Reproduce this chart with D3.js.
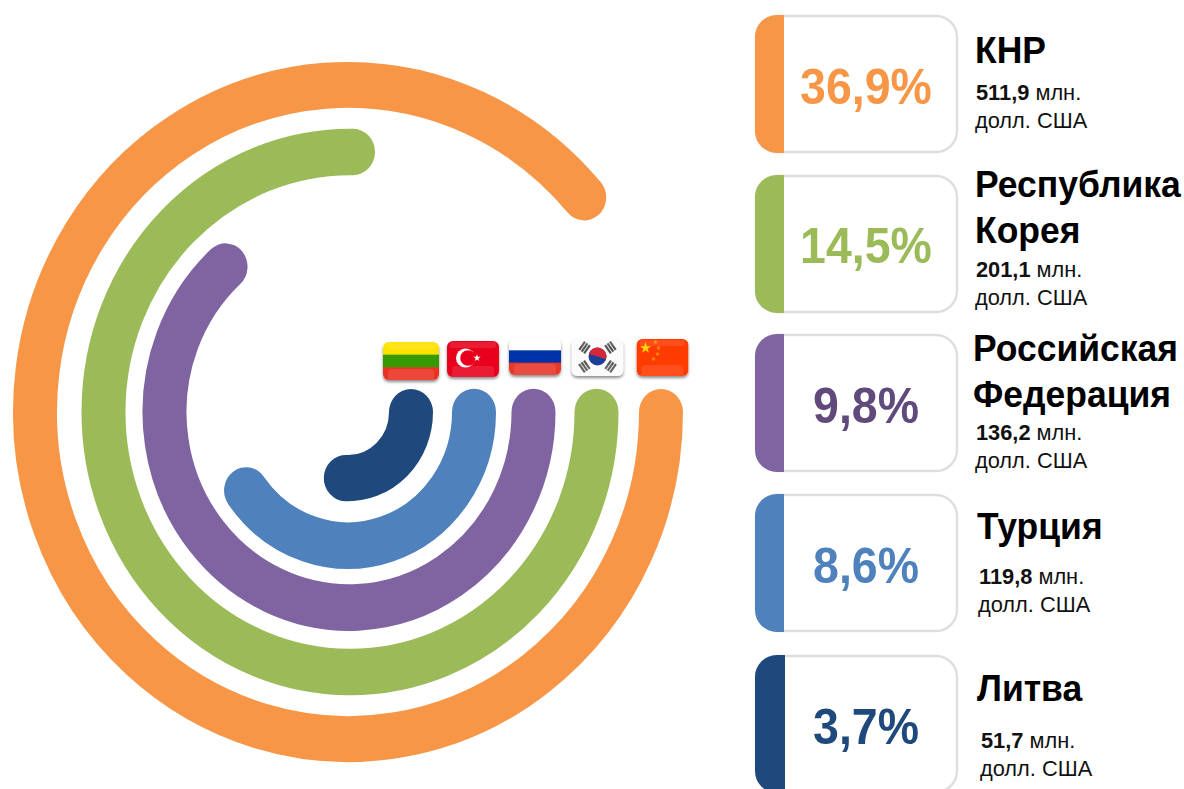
<!DOCTYPE html>
<html>
<head>
<meta charset="utf-8">
<script src="https://cdn.jsdelivr.net/npm/d3@7"></script>
<style>
  html, body { margin: 0; padding: 0; background: #fff; overflow: hidden; }
  svg { display: block; }
  text { font-family: "Liberation Sans", Arial, sans-serif; }
</style>
</head>
<body>
<div id="chart"></div>
<script>
// data
const countries = ['КНР', 'Республика Корея', 'Российская Федерация', 'Турция', 'Литва'];
const shares = ['36,9%', '14,5%', '9,8%', '8,6%', '3,7%'];
const amounts = ['511,9', '201,1', '136,2', '119,8', '51,7'];
const nameLines = [['КНР'], ['Республика', 'Корея'], ['Российская', 'Федерация'], ['Турция'], ['Литва']];
// sweep of each ring, degrees clockwise from 3 o'clock
const sweeps = [319, 270.7, 228, 144, 92];
const flags = ['cn', 'kr', 'ru', 'tr', 'lt'];

const colors = ['#F79646', '#9BBB59', '#8064A2', '#4F81BD', '#1F497D'];
const shareColors = ['#F79646', '#9BBB59', '#604A7B', '#4F81BD', '#1F497D'];

// layout
const width = 1184, height = 789;
const cy = 412, ringWidth = 44;
const ringRadii = [313, 246.5, 184.5, 126, 63];
const ringCx = [348, 350, 349, 348, 348];
const ringStretch = [1.045, 1.055, 1.06, 1.06, 1.05];
const panelTops = [15, 175, 334, 494, 655];
const panelHeight = 138;
const shareBase = [104, 263, 423, 583, 744];
const nameX = [975, 975, 973, 977, 977];
const nameBase = [[63], [197, 243], [361, 407], [539], [701]];
const amountX = [976, 976, 976, 979, 981];
const amountBase = [100, 277, 440, 584, 748];
const unitX = [975, 975, 975, 978, 980];
const unitBase = [128, 305, 468, 612, 776];
const flagCenters = [662.5, 597.5, 535, 473, 411];
const flagTops = [339, 339, 338, 341, 342];
const flagWidths = [52, 52, 52, 52, 56];
const flagHeights = [37, 37, 37, 36, 38];

const svg = d3.select('#chart').append('svg')
    .attr('width', width)
    .attr('height', height);

const defs = svg.append('defs');
const shadow = defs.append('filter').attr('id', 'flagShadow')
    .attr('x', '-20%').attr('y', '-20%').attr('width', '140%').attr('height', '150%');
shadow.append('feDropShadow')
    .attr('dx', 0).attr('dy', 2).attr('stdDeviation', 1.8)
    .attr('flood-color', '#000').attr('flood-opacity', 0.45);
defs.append('filter').attr('id', 'soft')
    .append('feGaussianBlur').attr('stdDeviation', 0.45);

// rings
const radius = d3.scaleOrdinal().domain(countries).range(ringRadii);
const angle = d3.scaleLinear().domain([0, 360]).range([0, 2 * Math.PI]);

svg.append('g').selectAll('path')
    .data(countries)
    .join('path')
    .attr('transform', (d, i) => `translate(${ringCx[i]},${cy}) scale(1,${ringStretch[i]})`)
    .attr('d', (d, i) => {
        const p = d3.path();
        p.arc(0, 0, radius(d), 0, angle(sweeps[i]));
        return p.toString();
    })
    .attr('fill', 'none')
    .attr('stroke', (d, i) => colors[i])
    .attr('stroke-width', ringWidth)
    .attr('stroke-linecap', 'round');

// flags
const flagLayer = svg.append('g');

const star = (g, x, y, size, fill) => g.append('path')
    .attr('d', d3.symbol(d3.symbolStar, size)())
    .attr('transform', `translate(${x},${y})`)
    .attr('fill', fill);

const bands = (g, w, h, cols) => {
    g.selectAll('rect.band')
        .data(cols)
        .join('rect')
        .attr('class', 'band')
        .attr('x', 0)
        .attr('y', (c, i) => i * h / cols.length)
        .attr('width', w)
        .attr('height', h / cols.length + 0.5)
        .attr('fill', c => c);
};

const flagPainters = {
    cn(g, w, h) {
        g.append('rect').attr('width', w).attr('height', h).attr('fill', '#FF3A00');
        star(g, 9, 9, 40, '#FFD500');
        star(g, 19, 3, 7, '#FF9A00');
        star(g, 22, 9, 7, '#FF9A00');
        star(g, 21, 15, 7, '#FF9A00');
        star(g, 17, 20, 7, '#FF9A00');
    },
    kr(g, w, h) {
        g.append('rect').attr('width', w).attr('height', h).attr('fill', '#FBFBFB');
        const mx = w / 2, my = h / 2 - 1;
        g.append('circle').attr('cx', mx).attr('cy', my).attr('r', 9).attr('fill', '#1D3F9A');
        g.append('path')
            .attr('d', d3.arc().innerRadius(0).outerRadius(9).startAngle(-Math.PI / 2 + 0.3).endAngle(Math.PI / 2 + 0.3)())
            .attr('transform', `translate(${mx},${my})`)
            .attr('fill', '#D62839');
        [[-13, -9, -55], [13, -9, 55], [-13, 10, 55], [13, 10, -55]].forEach(t => {
            const bar = g.append('g')
                .attr('transform', `translate(${mx + t[0]},${my + t[1]}) rotate(${t[2]})`);
            [-3, 0, 3].forEach(o => bar.append('rect')
                .attr('x', -5).attr('y', o - 1).attr('width', 10).attr('height', 2.2)
                .attr('fill', '#555'));
        });
    },
    ru(g, w, h) {
        bands(g, w, h, ['#FFFFFF', '#0033A8', '#E8392B']);
    },
    tr(g, w, h) {
        g.append('rect').attr('width', w).attr('height', h).attr('fill', '#E8061E');
        g.append('circle').attr('cx', 18.5).attr('cy', h / 2 - 1).attr('r', 9.5).attr('fill', '#fff');
        g.append('circle').attr('cx', 21).attr('cy', h / 2 - 1).attr('r', 7.8).attr('fill', '#E8061E');
        star(g, 30, h / 2 - 1, 16, '#fff');
    },
    lt(g, w, h) {
        bands(g, w, h, ['#FFE100', '#349A00', '#EA3323']);
    }
};

countries.forEach((c, i) => {
    const w = flagWidths[i], h = flagHeights[i];
    const clipId = 'flagClip' + i;
    defs.append('clipPath').attr('id', clipId)
        .append('rect').attr('width', w).attr('height', h).attr('rx', 6);
    const holder = flagLayer.append('g')
        .attr('transform', `translate(${flagCenters[i] - w / 2},${flagTops[i]})`)
        .attr('filter', 'url(#flagShadow)');
    const inner = holder.append('g')
        .attr('clip-path', `url(#${clipId})`)
        .append('g')
        .attr('filter', 'url(#soft)');
    flagPainters[flags[i]](inner, w, h);
    // glossy lower edge and top strip
    inner.append('rect')
        .attr('x', 5).attr('y', h - 11).attr('width', w - 10).attr('height', 14).attr('rx', 4)
        .attr('fill', '#fff').attr('opacity', 0.1);
    inner.append('rect')
        .attr('x', 3).attr('y', 1).attr('width', w - 6).attr('height', 6).attr('rx', 3)
        .attr('fill', '#fff').attr('opacity', 0.1);
});

// legend panels
const panels = svg.append('g').selectAll('g')
    .data(countries)
    .join('g')
    .attr('transform', (d, i) => `translate(755,${panelTops[i]})`);

panels.append('clipPath')
    .attr('id', (d, i) => 'panelClip' + i)
    .append('rect')
    .attr('width', 203).attr('height', panelHeight).attr('rx', 22);

panels.append('rect')
    .attr('x', 1).attr('y', 1)
    .attr('width', 201).attr('height', panelHeight - 2).attr('rx', 21)
    .attr('fill', '#fff')
    .attr('stroke', '#DEDEDE')
    .attr('stroke-width', 2.4);

panels.append('rect')
    .attr('clip-path', (d, i) => `url(#panelClip${i})`)
    .attr('width', (d, i) => i === 4 ? 30 : 29)
    .attr('height', panelHeight)
    .attr('fill', (d, i) => colors[i]);

// text, slightly taller than wide like the reference
const stretched = (x, y, sy) => `translate(${x},${y}) scale(1,${sy})`;

svg.append('g').selectAll('text')
    .data(shares)
    .join('text')
    .attr('transform', (d, i) => stretched(866, shareBase[i], 1.08))
    .attr('text-anchor', 'middle')
    .attr('font-size', 46.5)
    .attr('font-weight', 'bold')
    .attr('fill', (d, i) => shareColors[i])
    .text(d => d);

const legendText = svg.append('g');

nameLines.forEach((lines, i) => {
    legendText.selectAll(null)
        .data(lines)
        .join('text')
        .attr('transform', (d, j) => stretched(nameX[i], nameBase[i][j], 1.03))
        .attr('font-size', 35.5)
        .attr('font-weight', 'bold')
        .attr('fill', '#000')
        .text(d => d);
});

const amountText = legendText.selectAll('text.amount')
    .data(amounts)
    .join('text')
    .attr('class', 'amount')
    .attr('x', (d, i) => amountX[i])
    .attr('y', (d, i) => amountBase[i])
    .attr('font-size', 21.8)
    .attr('fill', '#111');
amountText.append('tspan').attr('font-weight', 'bold').text(d => d);
amountText.append('tspan').text(' млн.');

legendText.selectAll('text.unit')
    .data(amounts)
    .join('text')
    .attr('class', 'unit')
    .attr('x', (d, i) => unitX[i])
    .attr('y', (d, i) => unitBase[i])
    .attr('font-size', 21.8)
    .attr('fill', '#111')
    .text('долл. США');
</script>
</body>
</html>
